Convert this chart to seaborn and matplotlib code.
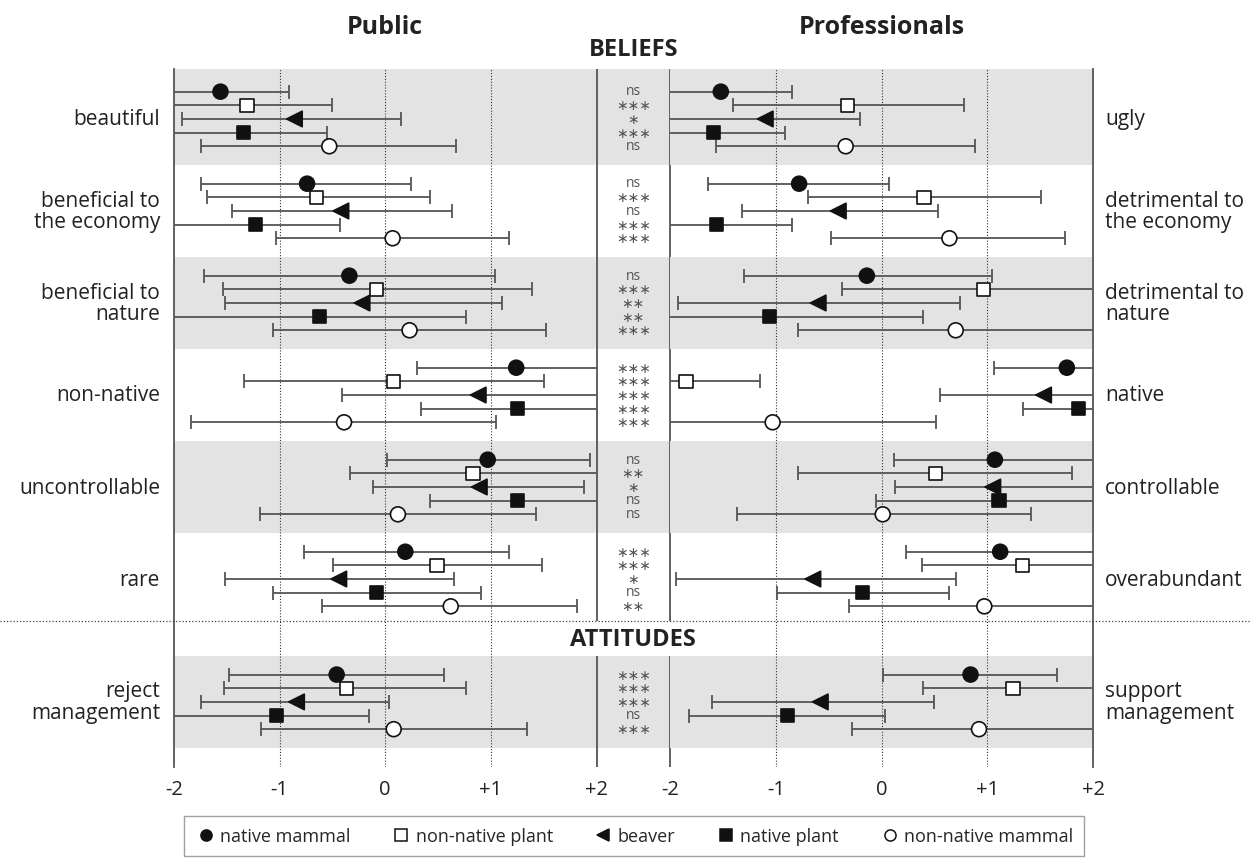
import numpy as np
import pandas as pd
import matplotlib.pyplot as plt
import seaborn as sns
from matplotlib.lines import Line2D
from matplotlib.transforms import blended_transform_factory

sns.set_theme(style='white')
plt.rcParams['font.family'] = ['Open Sans', 'DejaVu Sans']

# --- data -------------------------------------------------------------
ITEMS = ['native mammal', 'non-native plant', 'beaver', 'native plant', 'non-native mammal']
LEFT_LABELS = ['beautiful', 'beneficial to\nthe economy', 'beneficial to\nnature', 'non-native',
               'uncontrollable', 'rare', 'reject\nmanagement']
RIGHT_LABELS = ['ugly', 'detrimental to\nthe economy', 'detrimental to\nnature', 'native',
                'controllable', 'overabundant', 'support\nmanagement']
SIG = [['ns', '***', '*', '***', 'ns'],
       ['ns', '***', 'ns', '***', '***'],
       ['ns', '***', '**', '**', '***'],
       ['***', '***', '***', '***', '***'],
       ['ns', '**', '*', 'ns', 'ns'],
       ['***', '***', '*', 'ns', '**'],
       ['***', '***', '***', 'ns', '***']]

# public: mean, lower, upper (values past +/-2 run off the panel)
PUB_MEAN = [[-1.56, -1.31, -0.86, -1.34, -0.53],
            [-0.74, -0.65, -0.42, -1.23, 0.07],
            [-0.34, -0.08, -0.22, -0.62, 0.23],
            [1.24, 0.08, 0.88, 1.25, -0.39],
            [0.97, 0.83, 0.89, 1.25, 0.12],
            [0.19, 0.49, -0.44, -0.08, 0.62],
            [-0.46, -0.37, -0.84, -1.03, 0.08]]
PUB_LOW = [[-2.3, -2.3, -1.92, -2.3, -1.74],
           [-1.74, -1.69, -1.45, -2.3, -1.03],
           [-1.72, -1.54, -1.52, -2.3, -1.06],
           [0.30, -1.34, -0.41, 0.34, -1.84],
           [0.02, -0.33, -0.12, 0.42, -1.19],
           [-0.77, -0.49, -1.52, -1.06, -0.60],
           [-1.48, -1.53, -1.74, -2.3, -1.18]]
PUB_HIGH = [[-0.91, -0.50, 0.15, -0.55, 0.67],
            [0.24, 0.42, 0.63, -0.43, 1.17],
            [1.04, 1.39, 1.11, 0.76, 1.52],
            [2.3, 1.50, 2.3, 2.3, 1.05],
            [1.94, 2.3, 1.88, 2.3, 1.43],
            [1.17, 1.48, 0.65, 0.91, 1.82],
            [0.56, 0.76, 0.04, -0.15, 1.34]]

# professionals
PRO_MEAN = [[-1.52, -0.32, -1.10, -1.59, -0.34],
            [-0.78, 0.40, -0.41, -1.56, 0.64],
            [-0.14, 0.96, -0.60, -1.06, 0.70],
            [1.75, -1.85, 1.53, 1.86, -1.03],
            [1.07, 0.51, 1.05, 1.11, 0.01],
            [1.12, 1.33, -0.65, -0.18, 0.97],
            [0.84, 1.24, -0.58, -0.89, 0.92]]
PRO_LOW = [[-2.3, -1.40, -2.3, -2.3, -1.57],
           [-1.64, -0.70, -1.32, -2.3, -0.48],
           [-1.30, -0.37, -1.92, -2.3, -0.79],
           [1.06, -2.3, 0.55, 1.34, -2.3],
           [0.12, -0.79, 0.13, -0.05, -1.37],
           [0.23, 0.38, -1.94, -0.99, -0.31],
           [0.01, 0.39, -1.60, -1.82, -0.28]]
PRO_HIGH = [[-0.85, 0.78, -0.20, -0.91, 0.88],
            [0.07, 1.51, 0.53, -0.85, 1.73],
            [1.04, 2.3, 0.74, 0.39, 2.3],
            [2.3, -1.15, 2.3, 2.3, 0.51],
            [2.3, 1.80, 2.3, 2.3, 1.41],
            [2.3, 2.3, 0.70, 0.64, 2.3],
            [1.66, 2.3, 0.49, 0.03, 2.3]]

XTICKS = [-2, -1, 0, 1, 2]
XTICKLABELS = ['-2', '-1', '0', '+1', '+2']

# --- styling ----------------------------------------------------------
MARKERS = {'native mammal': 'o', 'non-native plant': 's', 'beaver': '<',
           'native plant': 's', 'non-native mammal': 'o'}
FILLS = {'native mammal': '#111111', 'non-native plant': 'white', 'beaver': '#111111',
         'native plant': '#111111', 'non-native mammal': 'white'}
SIZES = {'native mammal': 115, 'non-native plant': 92, 'beaver': 125,
         'native plant': 92, 'non-native mammal': 115}
LINE_C = '#555555'
BAND_C = '#e3e3e3'

GROUP = 6.74      # group spacing in row units
ATT_GAP = 9.0     # extra room before the attitudes block
centers = [g * GROUP for g in range(6)] + [5 * GROUP + ATT_GAP]
Y_TOP, Y_BOT = -3.66, 47.47
SEP = centers[5] + 3.1
ATT_TOP = centers[6] - GROUP / 2


def long_table(mean, low, high):
    rows = []
    for g in range(len(mean)):
        for i, item in enumerate(ITEMS):
            rows.append(dict(group=g, item=item, y=centers[g] + (i - 2),
                             mean=mean[g][i], low=low[g][i], high=high[g][i]))
    return pd.DataFrame(rows)


pub = long_table(PUB_MEAN, PUB_LOW, PUB_HIGH)
pro = long_table(PRO_MEAN, PRO_LOW, PRO_HIGH)

fig = plt.figure(figsize=(12.51, 8.62), dpi=100)
fig.patch.set_facecolor('white')
bottom, height = 1 - 768 / 862, 698 / 862
ax_pub = fig.add_axes([174 / 1251, bottom, 422.5 / 1251, height])
ax_mid = fig.add_axes([596.5 / 1251, bottom, 73.5 / 1251, height])
ax_pro = fig.add_axes([670 / 1251, bottom, 423.3 / 1251, height])


def shade(ax):
    for g in [0, 2, 4, 6]:
        top = Y_TOP if g == 0 else centers[g] - GROUP / 2
        ax.axhspan(top, centers[g] + GROUP / 2, color=BAND_C, lw=0, zorder=0)


for ax, df in [(ax_pub, pub), (ax_pro, pro)]:
    shade(ax)
    for xv in [-1, 0, 1]:
        ax.axvline(xv, color='#333333', lw=0.8, ls=(0, (1, 1.6)), zorder=1)
    ax.errorbar(df['mean'], df['y'], xerr=[df['mean'] - df['low'], df['high'] - df['mean']],
                fmt='none', ecolor=LINE_C, elinewidth=1.3, capsize=5, capthick=1.3, zorder=2)
    sns.scatterplot(data=df, x='mean', y='y', hue='item', style='item', size='item',
                    palette=FILLS, markers=MARKERS, sizes=SIZES, edgecolor='#111111',
                    linewidth=1.2, legend=False, zorder=3, ax=ax)
    ax.set_xlim(-2, 2)
    ax.set_ylim(Y_BOT, Y_TOP)
    ax.set_xticks(XTICKS)
    ax.set_xticklabels(XTICKLABELS)
    ax.tick_params(axis='x', length=0, pad=9, labelsize=14.5, colors='#222222')
    ax.set_yticks([])
    ax.set_xlabel('')
    ax.set_ylabel('')
    ax.set_facecolor('none')
    for s in ['top', 'bottom']:
        ax.spines[s].set_visible(False)

ax_pub.spines['right'].set_visible(False)
ax_pro.spines['left'].set_visible(False)
for ax, side in [(ax_pub, 'left'), (ax_pro, 'right')]:
    ax.spines[side].set_color(LINE_C)
    ax.spines[side].set_linewidth(1.3)

# middle column with significance marks
shade(ax_mid)
ax_mid.set_xlim(0, 1)
ax_mid.set_ylim(Y_BOT, Y_TOP)
ax_mid.axis('off')
for x0 in [0, 1]:
    ax_mid.vlines(x0, Y_TOP, SEP, color=LINE_C, lw=1.3, clip_on=False)
    ax_mid.vlines(x0, ATT_TOP, Y_BOT, color=LINE_C, lw=1.3, clip_on=False)
for g, marks in enumerate(SIG):
    for i, s in enumerate(marks):
        if s == 'ns':
            ax_mid.text(0.5, centers[g] + (i - 2) - 0.05, s, ha='center', va='center',
                        fontsize=10, color='#555555')
        else:
            # centred asterisk glyphs
            ax_mid.text(0.5, centers[g] + (i - 2), '\u2217' * len(s),
                        ha='center', va='center', fontsize=10, color='#555555',
                        family=['DejaVu Sans'])

# row labels
tl = blended_transform_factory(ax_pub.transAxes, ax_pub.transData)
tr = blended_transform_factory(ax_pro.transAxes, ax_pro.transData)
for g in range(7):
    ax_pub.text(-0.033, centers[g], LEFT_LABELS[g], transform=tl, ha='right', va='center',
                fontsize=15, color='#222222', linespacing=1.05)
    ax_pro.text(1.028, centers[g], RIGHT_LABELS[g], transform=tr, ha='left', va='center',
                fontsize=15, color='#222222', linespacing=1.05)

# headers
ax_pub.text(0.5, 1.061, 'Public', transform=ax_pub.transAxes, ha='center', va='center',
            fontsize=18, fontweight='bold', color='#222222')
ax_pro.text(0.5, 1.061, 'Professionals', transform=ax_pro.transAxes, ha='center',
            va='center', fontsize=18, fontweight='bold', color='#222222')
ax_mid.text(0.5, 1.0287, 'BELIEFS', transform=ax_mid.transAxes, ha='center', va='center',
            fontsize=17, fontweight='bold', color='#222222')
ax_mid.text(0.5, (SEP + ATT_TOP) / 2, 'ATTITUDES', ha='center', va='center',
            fontsize=17, fontweight='bold', color='#222222', clip_on=False)

# dotted separator across the whole figure
ts = blended_transform_factory(fig.transFigure, ax_pub.transData)
fig.add_artist(Line2D([0, 1], [SEP, SEP], transform=ts, color='#444444', lw=0.9,
                      ls=(0, (1, 1.6))))

# legend
handles = [Line2D([], [], marker=MARKERS[k], ls='none', mfc=FILLS[k], mec='#111111',
                  mew=1.1, ms=8) for k in ITEMS]
leg = fig.legend(handles, ITEMS, loc='center', ncol=5, mode='expand',
                 bbox_to_anchor=(175 / 1251, 0.003, 918 / 1251, 0.052),
                 frameon=True, fancybox=False, edgecolor='#888888', fontsize=13,
                 handletextpad=0.2, borderpad=0.6, handlelength=1.2)
leg.get_frame().set_linewidth(1.0)

plt.savefig('out.png', dpi=100)
